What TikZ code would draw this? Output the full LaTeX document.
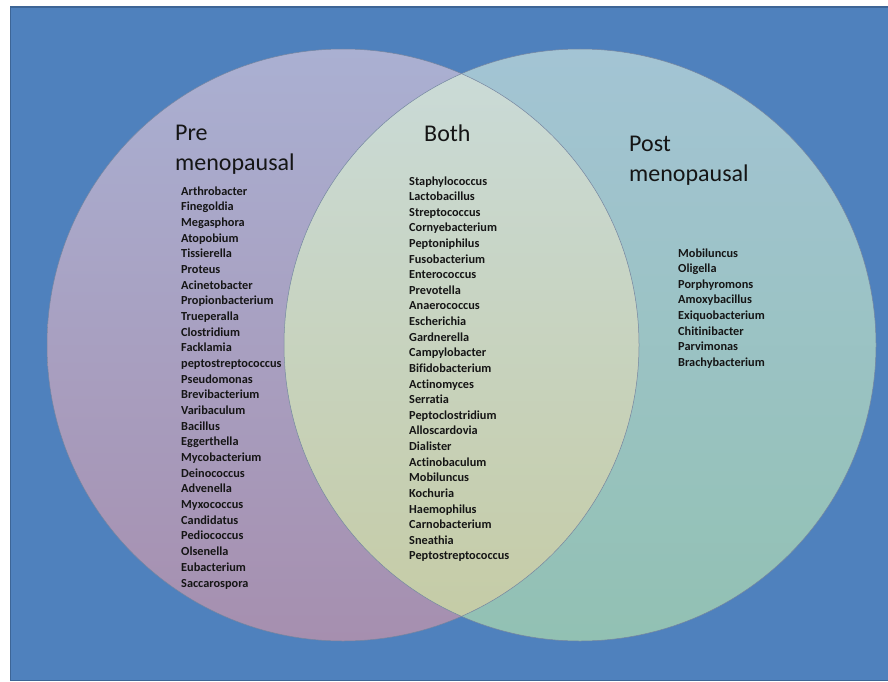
\documentclass[tikz,border=0pt]{standalone}
\usepackage{fontspec}
\setmainfont{Carlito}[Ligatures={NoCommon}]
\definecolor{bgblue}{HTML}{4F81BD}
\definecolor{bgedge}{HTML}{3D6596}
\definecolor{preTop}{HTML}{AAB0D2}
\definecolor{preBot}{HTML}{A68FAF}
\definecolor{postTop}{HTML}{A3C4D4}
\definecolor{postBot}{HTML}{92C1B3}
\definecolor{bothTop}{HTML}{CADBD9}
\definecolor{bothBot}{HTML}{C5CBA4}
\definecolor{ringcol}{HTML}{7585A0}
\definecolor{txt}{HTML}{151515}
\begin{document}
\begin{tikzpicture}[x=1pt,y=-1pt,
  item/.style={anchor=west,inner sep=0pt,text=txt,font=\bfseries\fontsize{12.3}{14}\selectfont,text height=8.5pt,text depth=2.5pt},
  title/.style={anchor=base west,inner sep=0pt,text=txt,font=\fontsize{24}{28}\selectfont},
  ring/.style={draw=ringcol,line width=0.5pt}]
\useasboundingbox (0,0) rectangle (888,682);
\fill[white] (0,0) rectangle (888,682);
\fill[bgblue] (10.5,7) rectangle (892,680.5);
\draw[bgedge,line width=1.5pt] (892,7) -- (10.5,7) -- (10.5,680.5) -- (892,680.5);
% circles
\coordinate (cpre) at (343,345);
\coordinate (cpost) at (580,345);
\shade[top color=preTop,bottom color=preBot] (cpre) circle[radius=296pt];
\shade[top color=postTop,bottom color=postBot] (cpost) circle[radius=296pt];
\begin{scope}
\clip (cpre) circle[radius=296pt];
\shade[top color=bothTop,bottom color=bothBot] (cpost) circle[radius=296pt];
\end{scope}
\draw[ring] (cpre) circle[radius=296pt];
\draw[ring] (cpost) circle[radius=296pt];
% titles
\node[title] (pre1) at (175,140) {Pre};
\node[title] (pre2) at (175,170) {menopausal};
\node[title] (both) at (424,142) {Both};
\node[title] (post1) at (629,151) {Post};
\node[title] (post2) at (629,181) {menopausal};
% lists
\foreach \t [count=\i] in {Arthrobacter,Finegoldia,Megasphora,Atopobium,Tissierella,Proteus,Acinetobacter,Propionbacterium,Trueperalla,Clostridium,Facklamia,peptostreptococcus,Pseudomonas,Brevibacterium,Varibaculum,Bacillus,Eggerthella,Mycobacterium,Deinococcus,Advenella,Myxococcus,Candidatus,Pediococcus,Olsenella,Eubacterium,Saccarospora}
  \node[item] (pl\i) at (181,{192+15.68*(\i-1)}) {\t};
\foreach \t [count=\i] in {Staphylococcus,Lactobacillus,Streptococcus,Cornyebacterium,Peptoniphilus,Fusobacterium,Enterococcus,Prevotella,Anaerococcus,Escherichia,Gardnerella,Campylobacter,Bifidobacterium,Actinomyces,Serratia,Peptoclostridium,Alloscardovia,Dialister,Actinobaculum,Mobiluncus,Kochuria,Haemophilus,Carnobacterium,Sneathia,Peptostreptococcus}
  \node[item] (bl\i) at (409,{182+15.62*(\i-1)}) {\t};
\foreach \t [count=\i] in {Mobiluncus,Oligella,Porphyromons,Amoxybacillus,Exiquobacterium,Chitinibacter,Parvimonas,Brachybacterium}
  \node[item] (ql\i) at (678,{254+15.6*(\i-1)}) {\t};
\end{tikzpicture}
\end{document}
